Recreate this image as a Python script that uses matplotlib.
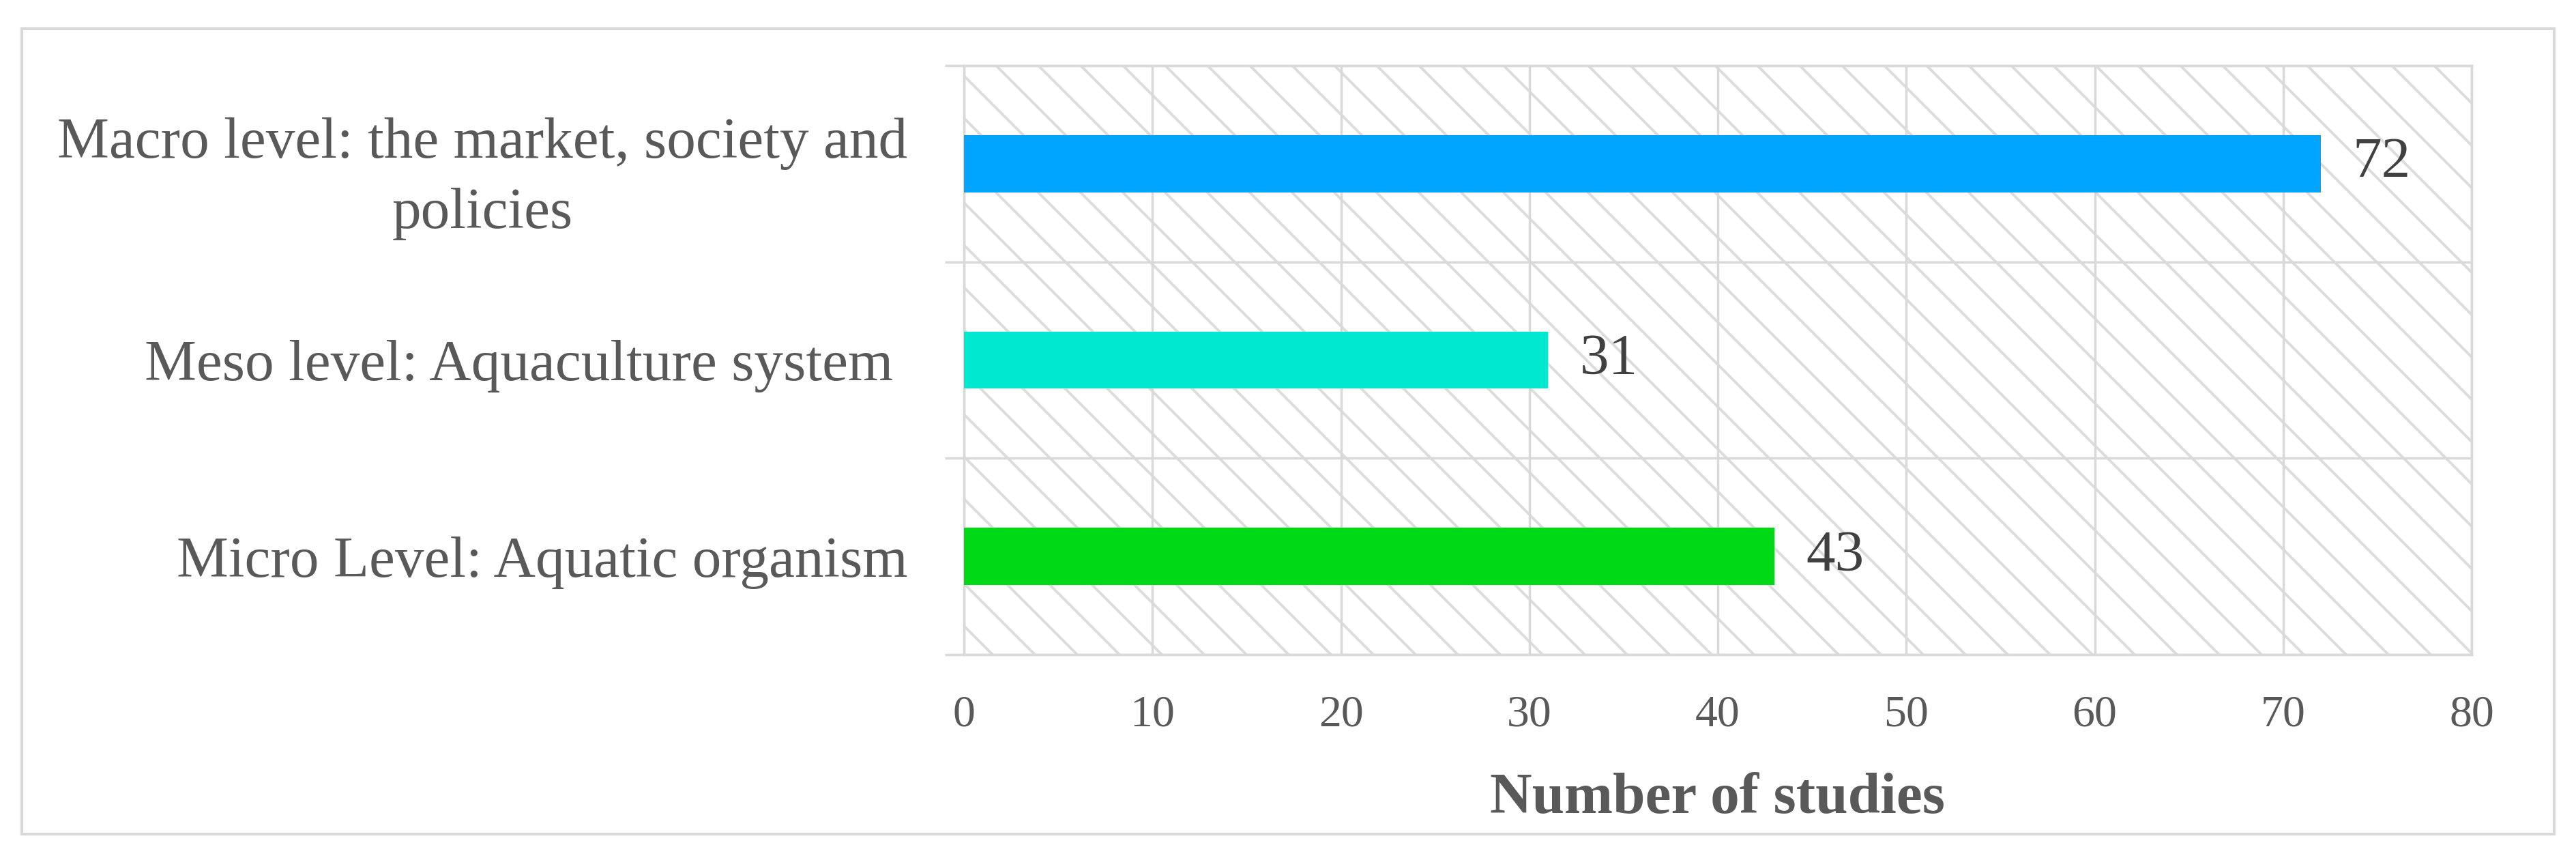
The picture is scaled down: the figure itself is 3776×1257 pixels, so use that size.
import matplotlib
matplotlib.use("Agg")
import matplotlib.pyplot as plt
from matplotlib.patches import Rectangle
import numpy as np

# ---- data ----
categories = ["Micro Level: Aquatic organism",
              "Meso level: Aquaculture system ",
              "Macro level: the market, society and\npolicies"]
values = [43, 31, 72]
bar_colors = ["#00d916", "#00e8cf", "#00a5ff"]
xticks = [0, 10, 20, 30, 40, 50, 60, 70, 80]
xlabel = "Number of studies"

DPI = 186
GRID = "#d9d9d9"
HATCH = "#dcdcdc"
plt.rcParams["font.family"] = ["Liberation Serif", "DejaVu Serif"]
plt.rcParams["hatch.color"] = HATCH
plt.rcParams["hatch.linewidth"] = 1.5

fig = plt.figure(figsize=(3776 / DPI, 1257 / DPI), dpi=DPI)
fig.patch.set_facecolor("white")

# outer frame
fig.patches.append(Rectangle((32 / 3776, 1 - 1222 / 1257), (3744 - 32) / 3776,
                             (1222 - 42) / 1257, transform=fig.transFigure,
                             fill=False, edgecolor=GRID, linewidth=1.6, zorder=0))

ax = fig.add_axes([1413 / 3776, 1 - 959 / 1257, (3623 - 1413) / 3776, (959 - 96) / 1257])
ax.patch.set_facecolor("white")
ax.patch.set_hatch("\\")
ax.patch.set_edgecolor(HATCH)
ax.patch.set_linewidth(0)

y = np.arange(len(categories))
ax.barh(y, values, height=0.29, color=bar_colors, zorder=3)

ax.set_xlim(xticks[0], xticks[-1])
ax.set_ylim(-0.5, len(categories) - 0.5)

# x axis
ax.set_xticks(xticks)
ax.set_xticklabels([str(t) for t in xticks])
ax.tick_params(axis="x", length=0, pad=23, labelsize=25.5, labelcolor="#595959")

# y axis: boundaries as major ticks, labels at centers as minor ticks
ax.set_yticks(np.arange(-0.5, len(categories), 1.0))
ax.set_yticklabels([])
ax.tick_params(axis="y", which="major", length=10.8, width=1.35, color=GRID)
ax.set_yticks(y, minor=True)
ax.set_yticklabels(categories, minor=True, fontsize=33, color="#595959",
                   linespacing=1.45, multialignment="center")
ax.tick_params(axis="y", which="minor", length=0, pad=32)

ax.grid(True, which="major", axis="both", color=GRID, linewidth=1.35, zorder=1)
ax.set_axisbelow(True)
for s in ax.spines.values():
    s.set_color(GRID)
    s.set_linewidth(1.35)

for yi, v in zip(y, values):
    ax.annotate(str(v), xy=(v, yi), xytext=(18, 0), textcoords="offset points",
                va="center", ha="left", fontsize=33, color="#404040", zorder=4)

ax.set_xlabel(xlabel, fontsize=33, fontweight="bold", color="#595959", labelpad=21)

fig.savefig("out.png", dpi=DPI, facecolor="white")
